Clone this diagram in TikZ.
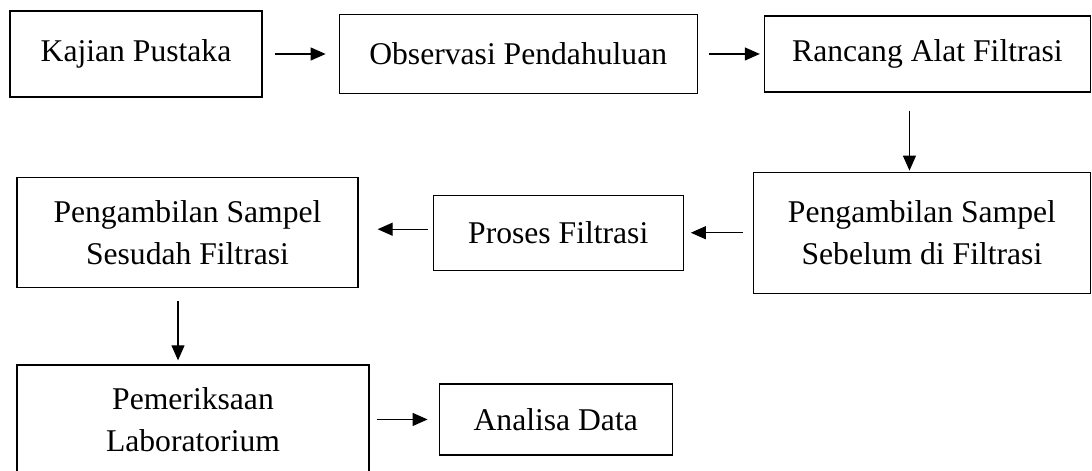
\documentclass[tikz,border=0pt]{standalone}
\usepackage{fontspec}
\setmainfont{Liberation Serif}
\usepackage{tikz}
\usetikzlibrary{arrows.meta, positioning, calc}

\tikzset{
  box/.style={draw, rectangle, line width=0.7pt, align=center, inner sep=2pt,
              font=\fontsize{18}{24}\selectfont},
  arr/.style={-{Triangle[length=0.3cm, width=0.26cm]}, line width=0.65pt}
}

\begin{document}
\begin{tikzpicture}[>=stealth, node distance=1.5cm and 1.5cm]
    \useasboundingbox (0,0) rectangle (21.84,-9.42);

    % Top row
    \node (kajian) [box, minimum width=5.04cm, minimum height=1.72cm] at (2.72,-1.08) {Kajian Pustaka};
    \node (observasi) [box, right=1.52cm of kajian, minimum width=7.16cm, minimum height=1.58cm] {Observasi Pendahuluan};
    \node (rancang) [box, right=1.32cm of observasi, minimum width=6.52cm, minimum height=1.52cm] {Rancang Alat Filtrasi};

    % Middle row
    \node (sebelum) [box, below=1.58cm of rancang.south east, anchor=north east, minimum width=6.74cm, minimum height=2.42cm] {Pengambilan Sampel\\Sebelum di Filtrasi};
    \node (proses) [box, left=1.38cm of sebelum, minimum width=5cm, minimum height=1.5cm] {Proses Filtrasi};
    \node (sesudah) [box, left=1.48cm of proses, minimum width=6.82cm, minimum height=2.2cm] {Pengambilan Sampel\\Sesudah Filtrasi};

    % Bottom row
    \node (periksa) [box, below=1.52cm of sesudah.south west, anchor=north west, minimum width=7.04cm, minimum height=2.18cm] {Pemeriksaan\\Laboratorium};
    \node (analisa) [box, right=1.38cm of periksa, minimum width=4.66cm, minimum height=1.42cm] {Analisa Data};

    % Connections
    \draw[arr, shorten <=0.24cm, shorten >=0.26cm] (kajian) -- (observasi);
    \draw[arr, shorten <=0.22cm, shorten >=0.08cm] (observasi) -- (rancang);
    \draw[arr, shorten <=0.36cm, shorten >=0.02cm] ([xshift=-0.36cm]rancang.south) -- ([xshift=-0.36cm]rancang.south |- sebelum.north);
    \draw[arr, shorten <=0.2cm, shorten >=0.14cm] (sebelum.west) -- (sebelum.west -| proses.east);
    \draw[arr, shorten <=0.1cm, shorten >=0.38cm] ([yshift=0.07cm]proses.west) -- ([yshift=0.07cm]proses.west -| sesudah.east);
    \draw[arr, shorten <=0.26cm, shorten >=0.08cm] ([xshift=-0.19cm]sesudah.south) -- ([xshift=-0.19cm]sesudah.south |- periksa.north);
    \draw[arr, shorten <=0.14cm, shorten >=0.22cm] (periksa.east) -- (periksa.east -| analisa.west);
\end{tikzpicture}
\end{document}
